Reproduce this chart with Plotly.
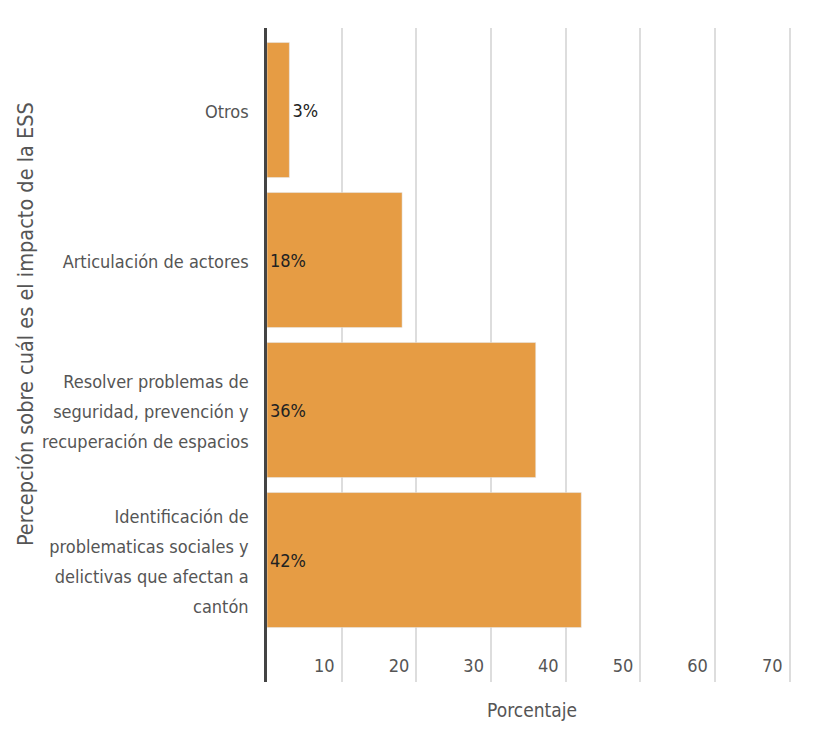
import plotly.graph_objects as go

categories = [
    "Identificación de<br>problematicas sociales y<br>delictivas que afectan a<br>cantón",
    "Resolver problemas de<br>seguridad, prevención y<br>recuperación de espacios",
    "Articulación de actores",
    "Otros",
]
values = [42.1, 36.0, 18.1, 3.0]
labels = ["42%", "36%", "18%", "3%"]
tick_vals = [10, 20, 30, 40, 50, 60, 70]

FONT = "DejaVu Sans Condensed, Liberation Sans Narrow, Roboto, sans-serif"
TXT = "#555555"

def wrap(lbl):
    return "<br>".join(f'<span style="font-size:18px">{p}</span>' for p in lbl.split("<br>"))

cat_ticks = [wrap(c) for c in categories]

fig = go.Figure(go.Bar(
    x=values,
    y=categories,
    orientation="h",
    text=labels,
    textposition="auto",
    insidetextanchor="start",
    insidetextfont=dict(family=FONT, size=18, color="#222222"),
    outsidetextfont=dict(family=FONT, size=18, color="#222222"),
    marker=dict(color="#E69C44"),
    cliponaxis=False,
    hoverinfo="skip",
))

fig.update_layout(
    width=818, height=746,
    margin=dict(l=259, r=29, t=20, b=72),
    paper_bgcolor="white", plot_bgcolor="white",
    bargap=0.1,
    showlegend=False,
    font=dict(family=FONT, color=TXT),
    annotations=[dict(
        text="Percepción sobre cuál es el impacto de la ESS",
        xref="paper", yref="paper", x=-0.457, y=0.547,
        xanchor="center", yanchor="middle", textangle=-90,
        showarrow=False, font=dict(family=FONT, size=21.5, color=TXT),
    )],
)

fig.update_xaxes(
    range=[0, 71],
    tickvals=tick_vals,
    ticklabelposition="inside left",
    ticklabelshift=-7,
    tickfont=dict(family=FONT, size=18, color=TXT),
    showgrid=True, gridcolor="#dddddd", gridwidth=1.5,
    zeroline=False, showline=False,
    title=dict(text="Porcentaje", font=dict(family=FONT, size=19, color=TXT), standoff=28),
)

fig.update_yaxes(
    type="category",
    categoryorder="array", categoryarray=categories,
    tickmode="array", tickvals=categories, ticktext=cat_ticks,
    range=[-0.813, 3.547],
    tickfont=dict(family=FONT, size=23, color=TXT),
    showline=True, linecolor="#444444", linewidth=2.5,
    showgrid=False, zeroline=False,
    ticks="", ticklabelstandoff=11,
)

fig.write_html("out.html")
